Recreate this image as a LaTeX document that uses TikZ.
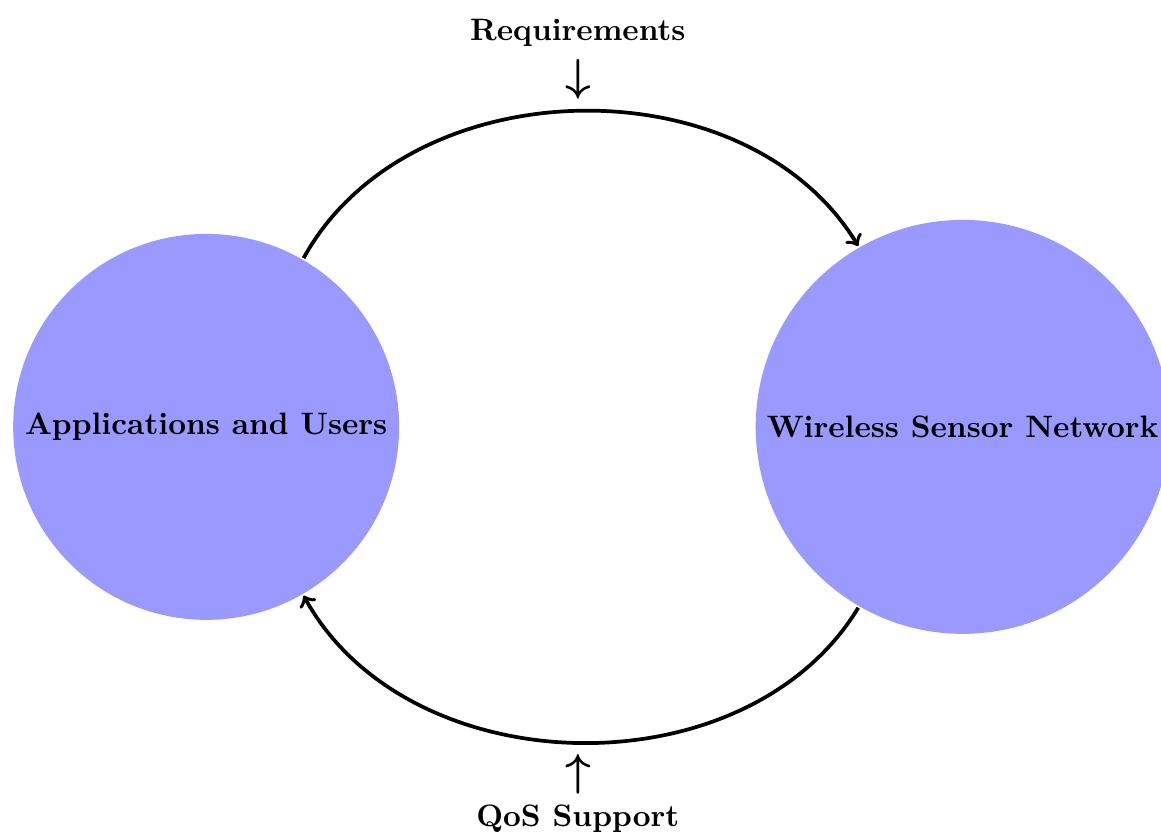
\documentclass[tikz,border=0pt]{standalone}
\usetikzlibrary{positioning}

\begin{document}
\begin{tikzpicture}[very thick, party/.style={circle, fill=blue!40, font=\bfseries}]
		\useasboundingbox (-66.5pt,-132.6pt) rectangle (308pt,137.7pt);
		\node[party] (apps) {Applications and Users};
		\node[party, right=4cm of apps] (wsn) {Wireless Sensor Network};
		\path[->]
			(apps.60) edge[bend left=60] node[above, align=center, font=\bfseries] {Requirements\\[4pt]{\Large\boldmath$\downarrow$}} (wsn.120) % top
			(wsn.240) edge[bend left=60] node[below, align=center, font=\bfseries] {{\Large\boldmath$\uparrow$}\\[1pt]QoS Support} (apps.300) % bottom
			;
		\end{tikzpicture}
\end{document}
